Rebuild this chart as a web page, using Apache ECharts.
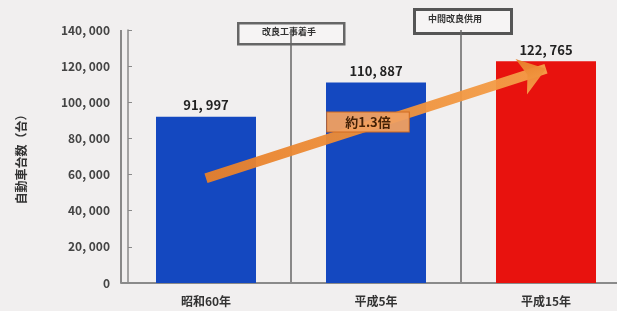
<!DOCTYPE html>
<html>
<head>
<meta charset="utf-8">
<script src="https://cdn.jsdelivr.net/npm/echarts@6/dist/echarts.min.js"></script>
<style>
  html, body { margin: 0; padding: 0; background: #f1efef; }
  #chart { width: 617px; height: 311px; }
</style>
</head>
<body>
<div id="chart"></div>
<script>
// 年次と自動車台数
const years = ['昭和60年', '平成5年', '平成15年'];
const cars = [91997, 110887, 122765];
const barColors = ['#1448c0', '#1448c0', '#e8120e'];
const yTicks = [0, 20000, 40000, 60000, 80000, 100000, 120000, 140000];
// 矢印の始点・終点（データ座標）
const arrowFrom = [0, 58000];
const arrowTo = [2, 118500];
const arrowText = '約1.3倍';

const chart = echarts.init(document.getElementById('chart'));

const fmt = v => v.toLocaleString('en-US').replace(',', ', ');

const option = {
  backgroundColor: '#f1efef',
  textStyle: { fontFamily: '"Noto Sans CJK JP", sans-serif' },
  grid: { left: 121, width: 510, top: 30, bottom: 28, outerBoundsMode: 'none' },
  xAxis: {
    type: 'category',
    data: years,
    axisLine: { lineStyle: { color: '#8a8a8a', width: 2 } },
    axisTick: { show: false },
    axisLabel: { color: '#333', fontSize: 12, fontWeight: 'bold', margin: 12 },
    splitLine: { show: true, lineStyle: { color: '#666', width: 1.5 } }
  },
  yAxis: {
    type: 'value',
    min: yTicks[0],
    max: yTicks[yTicks.length - 1],
    interval: 20000,
    offset: -7,
    name: '自動車台数（台）',
    nameLocation: 'middle',
    nameRotate: 90,
    nameGap: 101,
    nameTextStyle: { color: '#333', fontSize: 12, fontWeight: 'bold' },
    axisLine: { show: true, lineStyle: { color: '#8a8a8a', width: 1.5 } },
    axisTick: { show: true, inside: true, length: 4, lineStyle: { color: '#8a8a8a' } },
    axisLabel: { color: '#444', fontSize: 12, fontWeight: 'bold', margin: 18, formatter: v => fmt(v) },
    splitLine: { show: false }
  },
  series: [{
    type: 'bar',
    barWidth: 100,
    data: cars.map((v, i) => ({ value: v, itemStyle: { color: barColors[i] } })),
    label: {
      show: true,
      position: 'top',
      distance: 5,
      color: '#222',
      fontSize: 13,
      fontWeight: 'bold',
      formatter: p => fmt(p.value)
    },
    markLine: {
      silent: true,
      symbol: ['none', 'arrow'],
      symbolSize: [28, 26],
      lineStyle: {
        type: 'solid',
        width: 10,
        color: new echarts.graphic.LinearGradient(0, 0, 1, 0, [
          { offset: 0, color: '#e8802a' },
          { offset: 1, color: '#f5a04a' }
        ]),
        opacity: 0.95
      },
      label: {
        show: true,
        position: 'middle',
        formatter: arrowText,
        color: '#3a1a00',
        fontSize: 13,
        fontWeight: 'bold',
        backgroundColor: '#f0a060',
        borderColor: '#d06a20',
        borderWidth: 1,
        padding: [3, 18],
        distance: -2,
        offset: [-8, 6],
        rotate: 0
      },
      data: [[
        { coord: [arrowFrom[0], arrowFrom[1]] },
        { coord: [arrowTo[0], arrowTo[1]] }
      ]]
    }
  }],
  graphic: [
    {
      type: 'rect', left: 237, top: 22,
      shape: { width: 106, height: 21 },
      style: { fill: '#f6f4f4', stroke: '#666', lineWidth: 2.5 }
    },
    {
      type: 'text', left: 262, top: 27,
      style: { text: '改良工事着手', fill: '#333', font: 'bold 9px "Noto Sans CJK JP"' }
    },
    {
      type: 'rect', left: 413, top: 8,
      shape: { width: 97, height: 24 },
      style: { fill: '#f6f4f4', stroke: '#555', lineWidth: 3 }
    },
    {
      type: 'text', left: 428, top: 14,
      style: { text: '中間改良供用', fill: '#333', font: 'bold 9px "Noto Sans CJK JP"' }
    }
  ]
};

chart.setOption(option);
</script>
</body>
</html>
